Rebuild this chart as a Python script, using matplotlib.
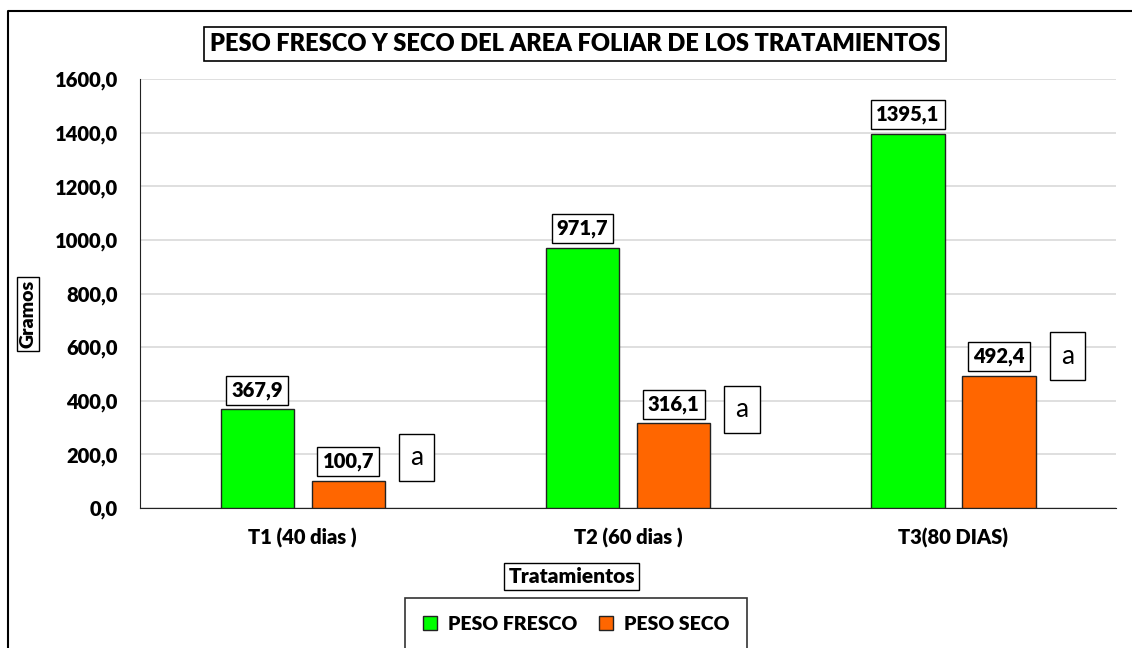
import numpy as np
import matplotlib.pyplot as plt
from matplotlib.lines import Line2D
from matplotlib.ticker import FuncFormatter

plt.rcParams['font.family'] = ['Lato', 'DejaVu Sans']

# data
tratamientos = ['T1 (40 dias )', 'T2 (60 dias )', 'T3(80 DIAS)']
peso_fresco = [367.9, 971.7, 1395.1]
peso_seco = [100.7, 316.1, 492.4]
letras = ['a', 'a', 'a']
letras_y = [190, 369, 567]

verde = '#00FF00'
naranja = '#FF6600'

fig = plt.figure(figsize=(11.32, 6.48), dpi=100)
ax = fig.add_axes([0.1237, 0.216, 0.8623, 0.662])

x = np.arange(len(tratamientos))
w = 0.225
off = 0.14
b1 = ax.bar(x - off, peso_fresco, w, color=verde, edgecolor='#222222', linewidth=1, zorder=3, label='PESO FRESCO')
b2 = ax.bar(x + off, peso_seco, w, color=naranja, edgecolor='#222222', linewidth=1, zorder=3, label='PESO SECO')

box = dict(boxstyle='square,pad=0.25', fc='white', ec='black', lw=1)
for bars, vals in ((b1, peso_fresco), (b2, peso_seco)):
    for r, v in zip(bars, vals):
        ax.annotate(f'{v:.1f}'.replace('.', ','), (r.get_x() + r.get_width() / 2, v),
                    xytext=(0, 7), textcoords='offset points', ha='center', va='bottom',
                    fontsize=14.5, fontweight='heavy', bbox=box, zorder=4)

for xi, yi, t in zip(x, letras_y, letras):
    ax.text(xi + 0.35, yi, t, ha='center', va='center', fontsize=19,
            bbox=dict(boxstyle='square,pad=0.42', fc='white', ec='black', lw=1), zorder=4)

ax.set_xlim(-0.5, 2.5)
ax.set_ylim(0, 1600)
ax.set_yticks(np.arange(0, 1601, 200))
ax.yaxis.set_major_formatter(FuncFormatter(lambda v, p: f'{v:.1f}'.replace('.', ',')))
ax.set_xticks(x)
ax.set_xticklabels(tratamientos)
ax.tick_params(axis='both', length=0, labelsize=14.5)
ax.tick_params(axis='y', pad=16)
ax.tick_params(axis='x', pad=14)
for lab in ax.get_xticklabels() + ax.get_yticklabels():
    lab.set_fontweight('heavy')
ax.grid(axis='y', color='#d9d9d9', lw=1.2, zorder=0)
for s in ('top', 'right'):
    ax.spines[s].set_visible(False)
ax.spines['left'].set_color('#222222')
ax.spines['bottom'].set_color('#222222')

fig.text(0.508, 0.932, 'PESO FRESCO Y SECO DEL AREA FOLIAR DE LOS TRATAMIENTOS',
         ha='center', va='center', fontsize=17, fontweight='heavy',
         bbox=dict(boxstyle='square,pad=0.25', fc='white', ec='black', lw=1.2))
fig.text(0.0247, 0.515, 'Gramos', rotation=90, ha='center', va='center', fontsize=14,
         fontweight='heavy', bbox=dict(boxstyle='square,pad=0.15', fc='white', ec='black', lw=1))
fig.text(0.505, 0.110, 'Tratamientos', ha='center', va='center', fontsize=15,
         fontweight='heavy', bbox=dict(boxstyle='square,pad=0.2', fc='white', ec='black', lw=1))

leg = fig.legend(handles=[b1, b2], loc='upper center', bbox_to_anchor=(0.509, 0.077),
                 ncol=2, frameon=True, fancybox=False, edgecolor='black', borderpad=0.9,
                 borderaxespad=0, prop={'weight': 'heavy', 'size': 14},
                 handlelength=0.75, handleheight=0.75, columnspacing=1.1, handletextpad=0.55)
leg.get_frame().set_linewidth(1.2)

# outer chart border (left and top only visible)
fig.add_artist(Line2D([8 / 1132, 8 / 1132, 1.0], [0.0, 1 - 11 / 648, 1 - 11 / 648],
                      transform=fig.transFigure, color='black', lw=1.5))

fig.savefig('out.png', dpi=100)
